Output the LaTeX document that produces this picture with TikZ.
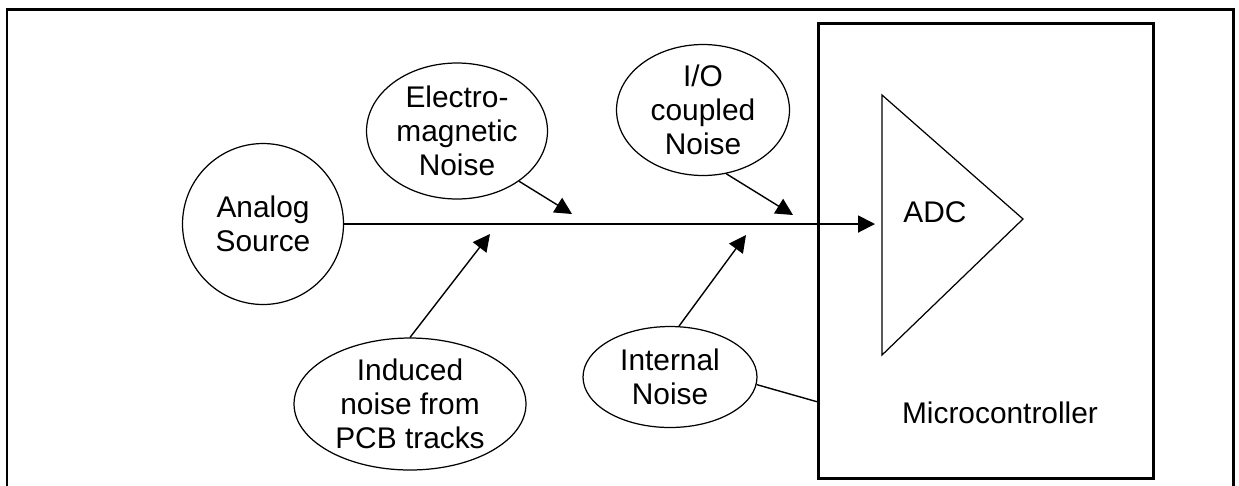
\documentclass[tikz,border=0pt]{standalone}
\usepackage{fontspec}
\setmainfont{Liberation Sans}
\usetikzlibrary{arrows.meta, shapes.geometric}

\begin{document}
\begin{tikzpicture}[
            > = {Triangle[length=0.34cm, width=0.34cm]}, % filled arrow head
            x = 0.02cm, y = -0.02cm, % one unit is one pixel
            font = \fontsize{17}{19.2}\selectfont,
            line width = 0.8pt
        ]

        \tikzstyle{noise}=[
            draw,
            ellipse,
            align = center,
            inner sep = -3pt,
            line width = 0.7pt
        ]

        \useasboundingbox (0,0) rectangle (1239,485);

        % cornice esterna
        \draw[line width=1.7pt] (7,500) -- (7,9) -- (1233,9) -- (1233,500);

        % microcontrollore e ADC
        \node[draw, line width=1.7pt, inner sep=0pt, minimum width=6.72cm, minimum height=9.12cm] (mcu) at (986,251) {};
        \node (mcutext) at (1000,413) {Microcontroller};
        \coordinate (adctop) at (882,95);
        \coordinate (adcout) at (1023,219);
        \coordinate (adcbot) at (882,355);
        \draw[line width=0.7pt] (adctop) -- (adcout) -- (adcbot) -- cycle;
        \node (adc) at (935,212) {ADC};

        % sorgente e rumori
        \node[circle, draw, line width=0.7pt, inner sep=0pt, minimum size=3.22cm, align=center] (src) at (263,224) {Analog\\Source};
        \node[noise, minimum width=3.62cm, minimum height=2.72cm] (em) at (457,131) {Electro-\\magnetic\\Noise};
        \node[noise, minimum width=3.46cm, minimum height=2.62cm] (io) at (703,110) {I/O\\coupled\\Noise};
        \node[noise, minimum width=4.64cm, minimum height=2.64cm] (pcb) at (410,404) {Induced\\noise from\\PCB tracks};
        \node[noise, minimum width=3.48cm, minimum height=2.02cm] (intn) at (670,377) {Internal\\Noise};

        % punte delle frecce
        \coordinate (adcin) at (875,224);
        \coordinate (emtip) at (572,214);
        \coordinate (iotip) at (793,215);
        \coordinate (pcbtip) at (490,234);
        \coordinate (intntip) at (746,235);
        \coordinate (mcuin) at (818,402);

        \draw[->, line width=1.1pt] (src.east) -- (adcin);
        \draw[->] (em.321) -- (emtip);
        \draw[->] (io.290) -- (iotip);
        \draw[->] (pcb.north) -- (pcbtip);
        \draw[->] (intn.80) -- (intntip);
        \draw (intn.355) -- (mcuin); % verso il micro

\end{tikzpicture}
\end{document}
